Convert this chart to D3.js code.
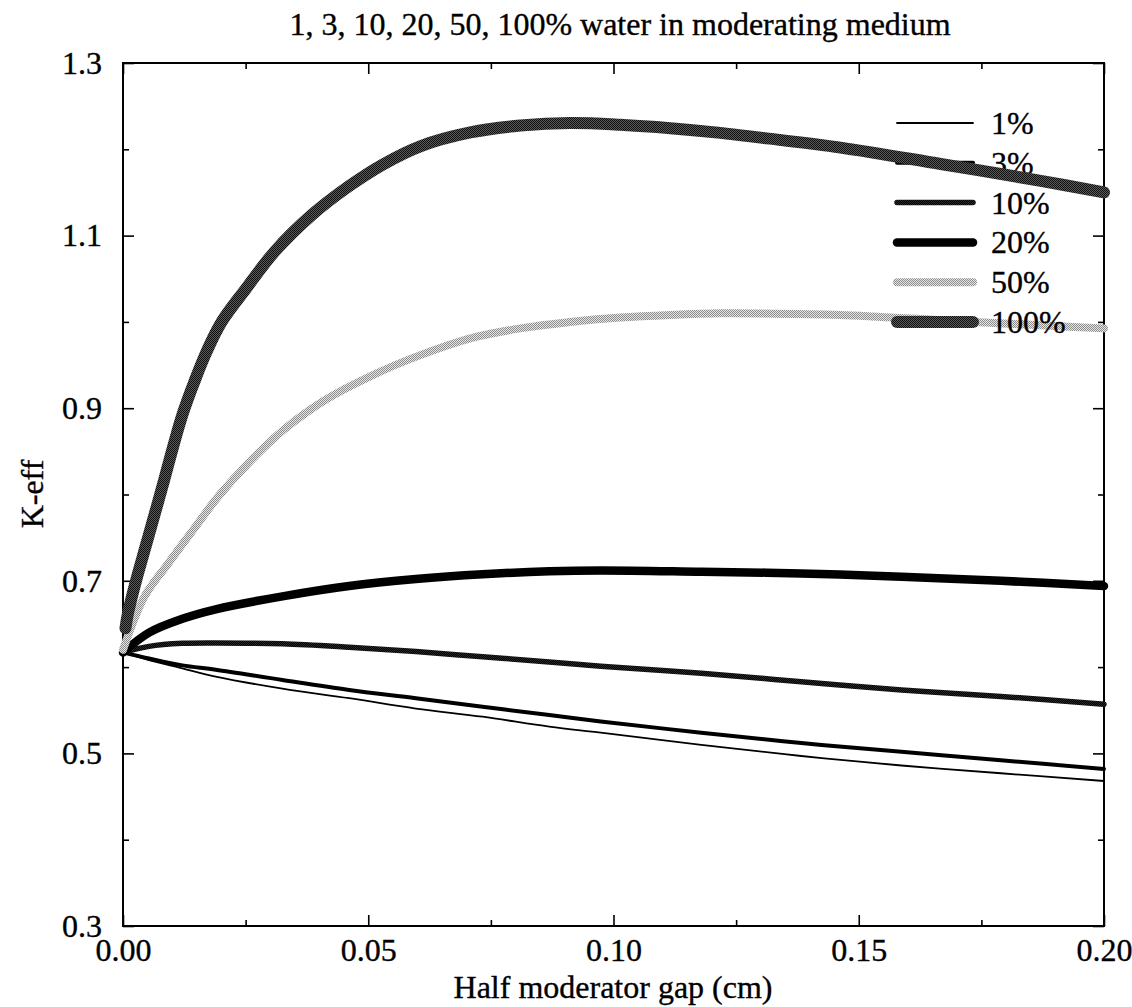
<!DOCTYPE html>
<html>
<head>
<meta charset="utf-8">
<script src="https://cdn.jsdelivr.net/npm/d3@7"></script>
<style>
  html, body { margin: 0; padding: 0; background: #fff; }
  svg { display: block; }
  text { font-family: "Liberation Serif", "Times New Roman", serif; fill: #000; stroke: #000; stroke-width: 0.35px; }
</style>
</head>
<body>
<svg id="chart" width="1132" height="1007"></svg>
<script>
// ---------------- data ----------------
const title = "1, 3, 10, 20, 50, 100% water in moderating medium";
const xTitle = "Half moderator gap (cm)";
const yTitle = "K-eff";

const xMajor = [0, 0.05, 0.10, 0.15, 0.20];
const xTickLabels = ["0.00", "0.05", "0.10", "0.15", "0.20"];
const xMinor = [0.025, 0.075, 0.125, 0.175];
const yMajor = [0.3, 0.5, 0.7, 0.9, 1.1, 1.3];
const yTickLabels = ["0.3", "0.5", "0.7", "0.9", "1.1", "1.3"];
const yMinor = [0.4, 0.6, 0.8, 1.0, 1.2];

const seriesNames = ["1%", "3%", "10%", "20%", "50%", "100%"];

const xLow = [0, 0.0053, 0.0121, 0.0189, 0.0325, 0.0461, 0.0597, 0.0733, 0.0869, 0.0974, 0.1179, 0.1383, 0.1587, 0.179, 0.2];
const k1   = [0.617, 0.608, 0.5985, 0.589, 0.575, 0.564, 0.552, 0.5425, 0.531, 0.524, 0.510, 0.497, 0.486, 0.477, 0.468];
const k3   = [0.617, 0.610, 0.602, 0.597, 0.585, 0.5735, 0.564, 0.554, 0.5445, 0.537, 0.524, 0.512, 0.502, 0.492, 0.482];
const k10  = [0.617, 0.624, 0.6275, 0.628, 0.627, 0.623, 0.618, 0.612, 0.606, 0.601, 0.593, 0.583, 0.5735, 0.566, 0.557];
const k20  = [0.617, 0.640, 0.656, 0.667, 0.682, 0.694, 0.702, 0.7075, 0.711, 0.712, 0.7105, 0.7086, 0.7047, 0.700, 0.694];

const x50  = [0, 0.0044, 0.0092, 0.0143, 0.0194, 0.0255, 0.0327, 0.0412, 0.0504, 0.0606, 0.0708, 0.081, 0.0912, 0.1014, 0.1116, 0.1218, 0.13, 0.1463, 0.1667, 0.1871, 0.2];
const k50  = [0.62, 0.682, 0.720, 0.759, 0.7975, 0.836, 0.8747, 0.9095, 0.937, 0.9615, 0.981, 0.9925, 1.0, 1.005, 1.008, 1.0099, 1.0098, 1.008, 1.002, 0.996, 0.9925];

const x100 = [0.0005, 0.001, 0.0027, 0.0046, 0.0065, 0.0084, 0.0102, 0.0122, 0.0145, 0.017, 0.0201, 0.025, 0.031, 0.0385, 0.046, 0.053, 0.0606, 0.0708, 0.081, 0.0912, 0.1014, 0.1116, 0.1218, 0.13, 0.1463, 0.1667, 0.1871, 0.2];
const k100 = [0.645, 0.662, 0.701, 0.7395, 0.778, 0.817, 0.855, 0.894, 0.930, 0.965, 1.000, 1.038, 1.082, 1.124, 1.157, 1.1825, 1.2035, 1.2195, 1.2275, 1.2305, 1.2285, 1.2245, 1.219, 1.2135, 1.202, 1.183, 1.1635, 1.15];

const seriesX = [xLow, xLow, xLow, xLow, x50, x100];
const seriesY = [k1, k3, k10, k20, k50, k100];

// ---------------- layout ----------------
const W = 1132, H = 1007;
const M = { left: 123, right: 1104, top: 63, bottom: 926 };
const FS = 32;

const svg = d3.select("#chart");
svg.append("rect").attr("width", W).attr("height", H).attr("fill", "#fff");

// stipple patterns
const defs = svg.append("defs");
function stipple(id, bg, fg) {
  const p = defs.append("pattern").attr("id", id)
    .attr("patternUnits", "userSpaceOnUse").attr("width", 2).attr("height", 2);
  p.append("rect").attr("width", 2).attr("height", 2).attr("fill", bg);
  p.append("rect").attr("x", 0).attr("y", 0).attr("width", 1).attr("height", 1).attr("fill", fg);
  p.append("rect").attr("x", 1).attr("y", 1).attr("width", 1).attr("height", 1).attr("fill", fg);
}
stipple("p50", "#e6e6e6", "#8c8c8c");
stipple("p100", "#5a5a5a", "#111");
stipple("p10", "#000", "#2a2a2a");

const styles = [
  { stroke: "#000", width: 1.8 },
  { stroke: "#000", width: 4 },
  { stroke: "url(#p10)", width: 5.5 },
  { stroke: "#000", width: 8.5 },
  { stroke: "url(#p50)", width: 8 },
  { stroke: "url(#p100)", width: 12 }
];

const x = d3.scaleLinear().domain([0, 0.2]).range([M.left, M.right]);
const y = d3.scaleLinear().domain([0.3, 1.3]).range([M.bottom, M.top]);

// ---------------- axes ----------------
const MAJ = 11, MIN = 6;
function styleAxis(g) {
  g.select(".domain").remove();
  g.selectAll(".tick line").attr("stroke", "#000").attr("stroke-width", 1.6);
  g.selectAll("text").style("font-size", FS + "px").attr("fill", "#000");
}

// bottom
const gxb = svg.append("g").attr("transform", `translate(0,${M.bottom})`)
  .call(d3.axisBottom(x).tickValues(xMajor).tickSize(-MAJ).tickFormat((d, i) => xTickLabels[i]));
styleAxis(gxb);
gxb.selectAll("text").attr("y", 35).attr("dy", null);
svg.append("g").attr("transform", `translate(0,${M.bottom})`)
  .call(d3.axisBottom(x).tickValues(xMinor).tickSize(-MIN).tickFormat(""))
  .call(styleAxis);
// top
svg.append("g").attr("transform", `translate(0,${M.top})`)
  .call(d3.axisTop(x).tickValues(xMajor).tickSize(-MAJ).tickFormat(""))
  .call(styleAxis);
svg.append("g").attr("transform", `translate(0,${M.top})`)
  .call(d3.axisTop(x).tickValues(xMinor).tickSize(-MIN).tickFormat(""))
  .call(styleAxis);
// left
const gyl = svg.append("g").attr("transform", `translate(${M.left},0)`)
  .call(d3.axisLeft(y).tickValues(yMajor).tickSize(-MAJ).tickPadding(21).tickFormat((d, i) => yTickLabels[i]));
styleAxis(gyl);
svg.append("g").attr("transform", `translate(${M.left},0)`)
  .call(d3.axisLeft(y).tickValues(yMinor).tickSize(-MIN).tickFormat(""))
  .call(styleAxis);
// right
svg.append("g").attr("transform", `translate(${M.right},0)`)
  .call(d3.axisRight(y).tickValues(yMajor).tickSize(-MAJ).tickFormat(""))
  .call(styleAxis);
svg.append("g").attr("transform", `translate(${M.right},0)`)
  .call(d3.axisRight(y).tickValues(yMinor).tickSize(-MIN).tickFormat(""))
  .call(styleAxis);

// frame
svg.append("rect")
  .attr("x", M.left).attr("y", M.top)
  .attr("width", M.right - M.left).attr("height", M.bottom - M.top)
  .attr("fill", "none").attr("stroke", "#000").attr("stroke-width", 2);

// titles
svg.append("text").attr("x", 620).attr("y", 35).attr("text-anchor", "middle")
  .style("font-size", FS + "px").text(title);
svg.append("text").attr("x", 613).attr("y", 998).attr("text-anchor", "middle")
  .style("font-size", FS + "px").text(xTitle);
svg.append("text").attr("transform", "translate(43,494) rotate(-90)").attr("text-anchor", "middle")
  .style("font-size", FS + "px").text(yTitle);

// ---------------- series + key (key entry drawn before each curve) ----------------
const line = d3.line().x(d => x(d[0])).y(d => y(d[1])).curve(d3.curveCatmullRom.alpha(0.5));
const keyX1 = 897, keyX2 = 973, keyTextX = 991, keyY0 = 123, keyDY = 39.8;

const plotG = svg.append("g");
seriesNames.forEach((name, i) => {
  const st = styles[i];
  const ky = keyY0 + i * keyDY;
  plotG.append("line")
    .attr("x1", keyX1).attr("x2", keyX2).attr("y1", ky).attr("y2", ky)
    .attr("stroke", st.stroke).attr("stroke-width", st.width).attr("stroke-linecap", "round");
  plotG.append("text").attr("x", keyTextX).attr("y", ky + 11)
    .style("font-size", FS + "px").text(name);
  const pts = seriesX[i].map((xv, j) => [xv, seriesY[i][j]]);
  plotG.append("path").datum(pts)
    .attr("d", line)
    .attr("fill", "none")
    .attr("stroke", st.stroke)
    .attr("stroke-width", st.width)
    .attr("stroke-linecap", "round")
    .attr("stroke-linejoin", "round");
});
</script>
</body>
</html>
